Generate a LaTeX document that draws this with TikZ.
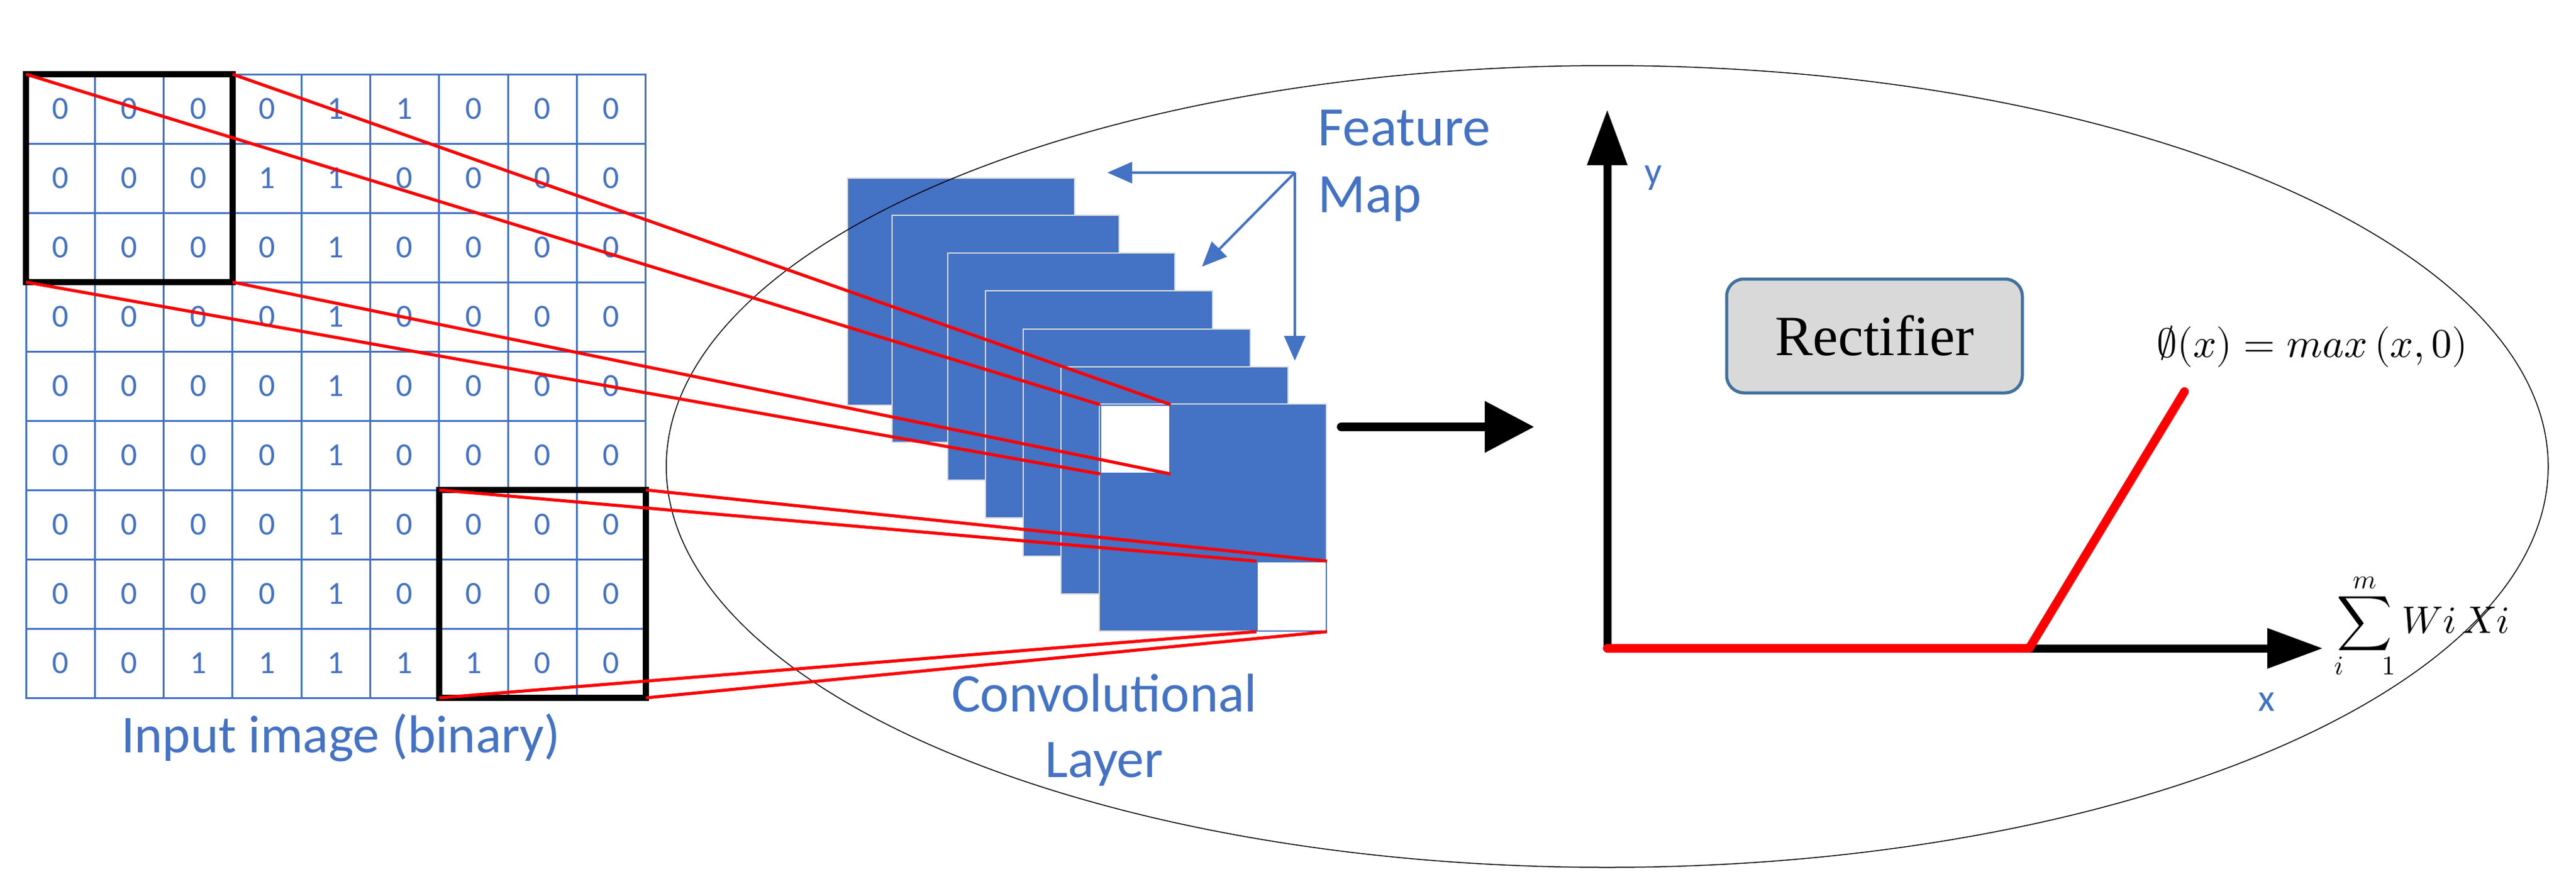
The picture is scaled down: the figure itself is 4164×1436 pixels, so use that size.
\documentclass[tikz,border=0pt]{standalone}
\usepackage{fontspec}
\usepackage{unicode-math}
\setmainfont{Carlito}
\setmathfont{Latin Modern Math}
\newfontfamily\tnr{Liberation Serif}
\usetikzlibrary{arrows.meta}
\definecolor{ublue}{HTML}{4472C4}
\definecolor{bbord}{HTML}{41719C}
\begin{document}
\begin{tikzpicture}[x=1pt,y=-1pt,
  cell/.style={draw=ublue,line width=3pt},
  dig/.style={text=ublue,font=\fontsize{52}{60}\selectfont},
  kbox/.style={draw=black,line width=10pt},
  fmap/.style={fill=ublue,draw=black!15,line width=1.5pt},
  wsq/.style={fill=white,draw=ublue,line width=2pt},
  redl/.style={draw=red,line width=5pt},
  lbl/.style={text=ublue,font=\fontsize{90}{108}\selectfont},
  barrow/.style={draw=ublue,line width=4pt,-{Triangle[length=40pt,width=34pt]}}]
\useasboundingbox (0,0) rectangle (4164,1436);
% grid
\foreach \r [count=\i from 0] in {{0,0,0,0,1,1,0,0,0},{0,0,0,1,1,0,0,0,0},{0,0,0,0,1,0,0,0,0},{0,0,0,0,1,0,0,0,0},{0,0,0,0,1,0,0,0,0},{0,0,0,0,1,0,0,0,0},{0,0,0,0,1,0,0,0,0},{0,0,0,0,1,0,0,0,0},{0,0,1,1,1,1,1,0,0}}{
  \foreach \v [count=\j from 0] in \r {
    \draw[cell] ({42+111.3*\j},{120+112*\i}) rectangle ++(111.3,112);
    \node[dig] (d\i\j) at ({42+111.3*\j+55.6},{120+112*\i+56}) {\v};
  }
}
\node[lbl,font=\fontsize{86}{100}\selectfont] (inlbl) at (551,1192) {Input image (binary)};
% feature maps
\foreach \x/\y [count=\k] in {1370/288,1442/348,1532/409,1593/470,1654/532,1715/593,1777/653}{
  \draw[fmap] (\x,\y) rectangle ++(367,367);
}
\node[wsq,minimum width=112pt,minimum height=110pt,inner sep=0pt] (w1) at (1835,710) {};
\node[wsq,minimum width=112pt,minimum height=112pt,inner sep=0pt] (w2) at (2088,964) {};
% kernel boxes
\draw[kbox] (42,120) rectangle (376,456);
\draw[kbox] (710,792) rectangle (1044,1128);
\coordinate (b1tl) at (42,120); \coordinate (b1tr) at (376,120);
\coordinate (b1bl) at (42,456); \coordinate (b1br) at (376,456);
\coordinate (b2tl) at (710,792); \coordinate (b2tr) at (1044,792);
\coordinate (b2bl) at (710,1128); \coordinate (b2br) at (1044,1128);
% ellipse
\draw[black,line width=1.5pt] (2598,754) ellipse [x radius=1521,y radius=648];
% red lines
\draw[redl] (b1tl) -- (w1.north west);
\draw[redl] (b1tr) -- (w1.north east);
\draw[redl] (b1bl) -- (w1.south west);
\draw[redl] (b1br) -- (w1.south east);
\draw[redl] (b2tl) -- (w2.north west);
\draw[redl] (b2tr) -- (w2.north east);
\draw[redl] (b2bl) -- (w2.south west);
\draw[redl] (b2br) -- (w2.south east);
% feature map label and arrows
\node[lbl,anchor=north west,align=left,inner sep=0pt] (fm) at (2130,178) {Feature\\Map};
\coordinate (fc) at (2093,279);
\coordinate (fa1) at (1790,279);
\coordinate (fa2) at (1943,431);
\coordinate (fa3) at (2093,583);
\draw[barrow] (fc) -- (fa1);
\draw[barrow] (fc) -- (fa2);
\draw[barrow] (fc) -- (fa3);
\node[lbl,align=center,font=\fontsize{88}{106}\selectfont] (conv) at (1785,1180) {Convolutional\\Layer};
% black arrow
\coordinate (ba1) at (2168,690); \coordinate (ba2) at (2480,690);
\draw[line width=14pt,line cap=round,-{Triangle[length=80pt,width=80pt,line cap=butt]}] (ba1) -- (ba2);
% axes
\coordinate (o) at (2598,1048);
\coordinate (ytip) at (2598,177);
\coordinate (xtip) at (3755,1048);
\coordinate (kink) at (3280,1048);
\coordinate (rend) at (3531,633);
\draw[line width=13pt,-{Triangle[length=90pt,width=62pt]}] (o) -- (ytip);
\draw[line width=13pt,-{Triangle[length=90pt,width=62pt]}] (o) -- (xtip);
\draw[red,line width=14pt,line cap=round,line join=round] (o) -- (kink) -- (rend);
\node[text=ublue,font=\fontsize{62}{70}\selectfont] (ylbl) at (2672,288) {y};
\node[text=ublue,font=\fontsize{62}{70}\selectfont] (xlbl) at (3664,1135) {x};
\node[draw=bbord,fill=black!15,line width=5pt,rounded corners=28pt,minimum width=478pt,minimum height=184pt,font=\tnr\fontsize{92}{100}\selectfont] (rect) at (3030,543) {Rectifier};
\node[font=\fontsize{66}{76}\selectfont] (phi) at (3738,560) {$\emptyset(x) = max\,(x,0)$};
\node[font=\fontsize{62}{74}\selectfont] (sum) at (3915,1012) {$\displaystyle\sum_{i\quad 1}^{m} Wi\,Xi$};
\end{tikzpicture}
\end{document}
